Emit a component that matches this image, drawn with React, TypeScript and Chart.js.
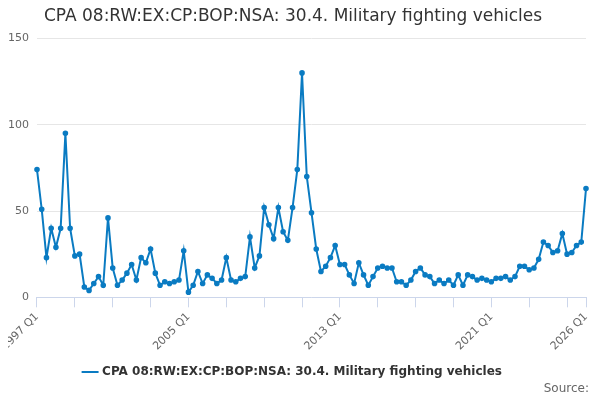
import React, { useEffect, useRef } from "react";
import { Chart, registerables } from "chart.js";
Chart.register(...registerables);

const years: number[] = [];
for (let y = 1997; y <= 2026; y++) years.push(y);
const categories: string[] = [];
years.forEach((y) => { for (let q = 1; q <= 4; q++) if (y < 2026 || q === 1) categories.push(`${y} Q${q}`); });

const values: number[] = [
  74, 51, 23, 40, 29, 40, 95, 40, 24, 25, 6, 4, 8, 12, 7, 46,
  17, 7, 10, 14, 19, 10, 23, 20, 28, 14, 7, 9, 8, 9, 10, 27,
  3, 7, 15, 8, 13, 11, 8, 10, 23, 10, 9, 11, 12, 35, 17, 24,
  52, 42, 34, 52, 38, 33, 52, 74, 130, 70, 49, 28, 15, 18, 23, 30,
  19, 19, 13, 8, 20, 13, 7, 12, 17, 18, 17, 17, 9, 9, 7, 10,
  15, 17, 13, 12, 8, 10, 8, 10, 7, 13, 7, 13, 12, 10, 11, 10,
  9, 11, 11, 12, 10, 12, 18, 18, 16, 17, 22, 32, 30, 26, 27, 37,
  25, 26, 30, 32, 63,
];
const seriesName = "CPA 08:RW:EX:CP:BOP:NSA: 30.4. Military fighting vehicles";
const yTicks = [0, 50, 100, 150];

export default function App() {
  const ref = useRef<HTMLCanvasElement>(null);
  useEffect(() => {
    const last = categories.length - 1;
    const chart = new Chart(ref.current!, {
      type: "line",
      data: {
        labels: categories,
        datasets: [{
          label: seriesName, data: values, borderColor: "#0a7bc2", backgroundColor: "#0a7bc2",
          borderWidth: 2, pointRadius: 1.8, pointHoverRadius: 3, tension: 0,
        }],
      },
      options: {
        animation: false, responsive: false,
        layout: { padding: { left: 0, right: 14, bottom: 12 } },
        plugins: {
          title: { display: true, text: seriesName, color: "#333", font: { family: "DejaVu Sans", size: 17, weight: "normal" }, padding: { top: 6, bottom: 12 } },
          legend: { position: "bottom", labels: { usePointStyle: true, pointStyle: "line", color: "#333", font: { family: "DejaVu Sans", size: 12, weight: "bold" } } },
          tooltip: { enabled: false },
        },
        scales: {
          x: {
            grid: { drawOnChartArea: false, drawTicks: true, color: "#ccd6eb", tickLength: 10 },
            border: { color: "#ccd6eb" },
            ticks: {
              autoSkip: false, maxRotation: 45, minRotation: 45, color: "#666", font: { family: "DejaVu Sans", size: 11 },
              callback: (_v: any, i: number) => (i % 32 === 0 || i === last ? categories[i] : i % 8 === 0 ? "" : null),
            },
          },
          y: {
            min: 0, max: 150,
            afterBuildTicks: (s: any) => { s.ticks = yTicks.map((v) => ({ value: v })); },
            grid: { color: "#e6e6e6", drawTicks: false },
            border: { display: false },
            ticks: { color: "#666", padding: 8, font: { family: "DejaVu Sans", size: 11 } },
          },
        },
      } as any,
    });
    return () => chart.destroy();
  }, []);
  return (
    <div style={{ position: "relative", width: 600, height: 400, margin: -8 }}>
      <canvas ref={ref} width={600} height={400} />
      <div style={{ position: "absolute", right: 11, bottom: 5, fontFamily: "DejaVu Sans", fontSize: 12, color: "#666" }}>Source:</div>
    </div>
  );
}
